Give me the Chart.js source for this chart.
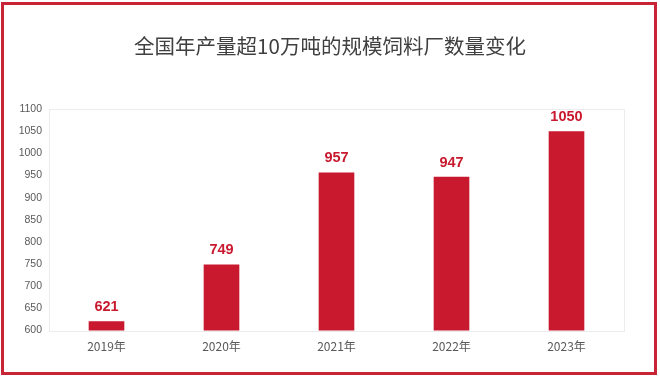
<!DOCTYPE html>
<html>
<head>
<meta charset="utf-8">
<script src="https://cdn.jsdelivr.net/npm/chart.js@4/dist/chart.umd.min.js"></script>
<style>
  html,body{margin:0;padding:0;background:#fff;}
  #wrap{position:relative;width:660px;height:379px;overflow:hidden;}
  #c{position:absolute;left:0;top:0;}
  #frame{position:absolute;left:1px;top:2px;width:650px;height:367px;border:3px solid #c82436;pointer-events:none;}
</style>
</head>
<body>
<div id="wrap">
  <canvas id="c" width="660" height="379"></canvas>
  <div id="frame"></div>
</div>
<script>
const categories = ['2019年','2020年','2021年','2022年','2023年'];
const plantCounts = [621, 749, 957, 947, 1050];
const titleText = '全国年产量超10万吨的规模饲料厂数量变化';

const barColor = '#c8192e';

const plotBorder = {
  id: 'plotBorder',
  beforeDatasetsDraw(chart) {
    const a = chart.chartArea, ctx = chart.ctx;
    ctx.save();
    ctx.strokeStyle = '#ececec';
    ctx.lineWidth = 1;
    ctx.strokeRect(Math.round(a.left) + 0.5, Math.round(a.top) + 0.5, Math.round(a.right - a.left), Math.round(a.bottom - a.top));
    ctx.restore();
  }
};

const centeredTitle = {
  id: 'centeredTitle',
  afterDraw(chart) {
    const ctx = chart.ctx;
    ctx.save();
    ctx.fillStyle = '#404040';
    ctx.font = '20.5px "Noto Sans CJK SC", sans-serif';
    ctx.textAlign = 'center';
    ctx.textBaseline = 'middle';
    ctx.fillText(titleText, chart.width / 2, 46);
    ctx.restore();
  }
};

const valueLabels = {
  id: 'valueLabels',
  afterDatasetsDraw(chart) {
    const ctx = chart.ctx;
    const meta = chart.getDatasetMeta(0);
    ctx.save();
    ctx.fillStyle = '#c8192e';
    ctx.font = 'bold 14.5px "Liberation Sans", Arial, sans-serif';
    ctx.textAlign = 'center';
    ctx.textBaseline = 'bottom';
    meta.data.forEach((bar, i) => {
      ctx.fillText(String(chart.data.datasets[0].data[i]), bar.x, bar.y - 7);
    });
    ctx.restore();
  }
};

new Chart(document.getElementById('c'), {
  type: 'bar',
  data: {
    labels: categories,
    datasets: [{
      data: plantCounts,
      backgroundColor: barColor,
      borderWidth: 0,
      categoryPercentage: 1.0,
      barPercentage: 0.31
    }]
  },
  options: {
    responsive: false,
    animation: false,
    devicePixelRatio: 1,
    layout: { padding: { left: 8, right: 36, top: 109, bottom: 16 } },
    plugins: {
      legend: { display: false },
      tooltip: { enabled: false },
      title: { display: false }
    },
    scales: {
      x: {
        grid: { display: false, drawTicks: false },
        border: { display: false },
        ticks: { color: '#595959', font: { family: '"Noto Sans CJK SC", sans-serif', size: 12 }, padding: 9 }
      },
      y: {
        min: 600,
        max: 1100,
        grid: { display: false, drawTicks: false },
        border: { display: false },
        afterFit(scale) { scale.width = 41; },
        ticks: {
          stepSize: 50,
          color: '#595959',
          font: { family: '"Liberation Sans", Arial, sans-serif', size: 10.5 },
          padding: 7,
          callback: (v) => String(v)
        }
      }
    }
  },
  plugins: [plotBorder, valueLabels, centeredTitle]
});
</script>
</body>
</html>
